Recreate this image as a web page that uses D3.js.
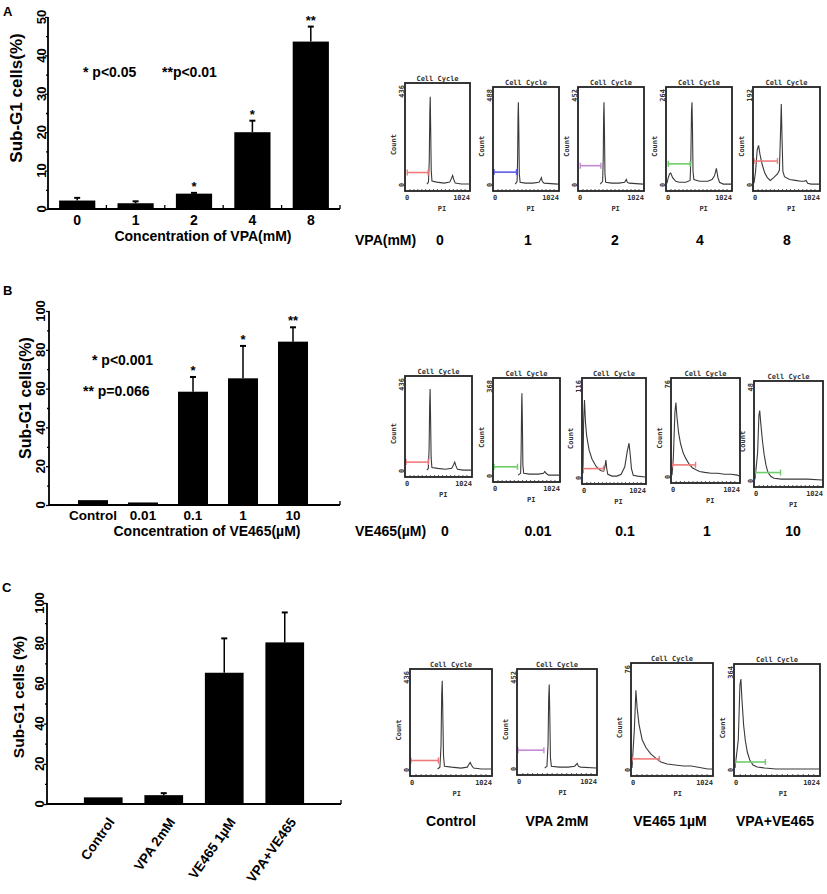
<!DOCTYPE html>
<html>
<head>
<meta charset="utf-8">
<script src="https://cdn.jsdelivr.net/npm/d3@7"></script>
<style>
  body { margin: 0; background: #fff; }
  text { font-family: "Liberation Sans", Arial, sans-serif; font-weight: bold; fill: #000; }
  .mono { font-family: "DejaVu Sans Mono", monospace; font-size: 7px; fill: #333; }
</style>
</head>
<body>
<svg id="fig" width="827" height="894"></svg>
<script>
// ---- bar chart data ----
var vpaDoses = ['0', '1', '2', '4', '8'];
var vpaSubG1 = [2.2, 1.5, 4.0, 20.0, 43.6];
var vpaErr = [0.7, 0.5, 0.2, 3.0, 3.9];
var vpaStars = ['', '', '*', '*', '**'];
var vpaTicks = [0, 10, 20, 30, 40, 50];

var veDoses = ['Control', '0.01', '0.1', '1', '10'];
var veSubG1 = [2.5, 1.3, 58.4, 65.3, 84.2];
var veErr = [0, 0, 7.6, 16.7, 7.4];
var veStars = ['', '', '*', '*', '**'];
var veTicks = [0, 20, 40, 60, 80, 100];

var comboGroups = ['Control', 'VPA 2mM', 'VE465 1\u00b5M', 'VPA+VE465'];
var comboSubG1 = [3.3, 4.4, 65.3, 80.4];
var comboErr = [0, 1.0, 17.1, 14.9];
var comboTicks = [0, 20, 40, 60, 80, 100];

// ---- flow histograms: [PI channel, count as fraction of axis max] ----
var histA0 = [[340,0.01],[365,0.03],[378,0.25],[387,0.75],[394,0.92],[401,0.6],[410,0.15],[422,0.04],[500,0.03],[620,0.02],[710,0.03],[740,0.07],[758,0.1],[775,0.06],[800,0.02],[900,0.01],[1024,0.01]];
var histA1 = [[340,0.01],[370,0.04],[378,0.3],[384,0.75],[390,0.9],[397,0.6],[405,0.12],[418,0.03],[500,0.02],[620,0.02],[720,0.03],[745,0.06],[758,0.08],[772,0.04],[800,0.02],[1024,0.01]];
var histA2 = [[340,0.01],[378,0.04],[388,0.3],[394,0.75],[400,0.9],[407,0.6],[415,0.12],[428,0.03],[520,0.02],[640,0.02],[730,0.03],[748,0.05],[758,0.06],[772,0.03],[800,0.02],[1024,0.01]];
var histA3 = [[0,0.02],[20,0.08],[40,0.12],[60,0.13],[90,0.08],[140,0.04],[200,0.03],[300,0.03],[370,0.05],[382,0.3],[392,0.8],[400,0.9],[408,0.6],[416,0.15],[430,0.06],[520,0.04],[650,0.04],[720,0.06],[760,0.1],[790,0.18],[815,0.08],[840,0.03],[900,0.01],[1024,0.01]];
var histA4 = [[0,0.02],[25,0.15],[50,0.38],[72,0.43],[95,0.33],[130,0.22],[170,0.13],[210,0.08],[256,0.05],[310,0.08],[370,0.12],[400,0.16],[415,0.5],[430,0.88],[442,0.5],[455,0.15],[480,0.09],[560,0.06],[650,0.05],[740,0.04],[790,0.04],[820,0.05],[845,0.02],[900,0.01],[1024,0.01]];

var histB0 = [[330,0.01],[352,0.03],[364,0.25],[373,0.75],[380,0.92],[387,0.6],[396,0.15],[408,0.04],[500,0.03],[620,0.02],[720,0.03],[750,0.07],[768,0.1],[785,0.06],[810,0.02],[900,0.01],[1024,0.01]];
var histB1 = [[380,0.01],[420,0.03],[428,0.3],[435,0.75],[440,0.9],[447,0.6],[455,0.12],[468,0.03],[560,0.02],[700,0.02],[780,0.03],[800,0.05],[820,0.03],[860,0.01],[1024,0.01]];
var histB2 = [[0,0.05],[10,0.6],[25,0.83],[40,0.6],[60,0.45],[100,0.3],[150,0.2],[220,0.12],[290,0.08],[340,0.07],[362,0.12],[378,0.19],[392,0.1],[410,0.04],[480,0.02],[560,0.02],[630,0.04],[690,0.12],[730,0.28],[760,0.37],[780,0.25],[800,0.1],[830,0.03],[900,0.02],[1024,0.01]];
var histB3 = [[0,0.02],[20,0.2],[45,0.7],[60,0.8],[75,0.65],[100,0.48],[130,0.36],[170,0.26],[210,0.2],[260,0.14],[310,0.1],[360,0.08],[420,0.06],[500,0.05],[600,0.04],[700,0.04],[800,0.03],[900,0.03],[1000,0.02],[1024,0.01]];
var histB4 = [[0,0.02],[40,0.3],[60,0.7],[72,0.75],[90,0.6],[115,0.42],[140,0.28],[170,0.16],[200,0.09],[240,0.05],[290,0.03],[400,0.02],[600,0.02],[800,0.02],[1024,0.01]];

var histC0 = [[340,0.01],[370,0.03],[384,0.25],[393,0.8],[400,0.94],[407,0.6],[416,0.15],[428,0.04],[520,0.03],[640,0.02],[720,0.03],[742,0.06],[758,0.08],[774,0.05],[800,0.02],[900,0.01],[1024,0.01]];
var histC1 = [[350,0.01],[380,0.03],[394,0.25],[403,0.75],[410,0.9],[417,0.6],[426,0.12],[438,0.03],[540,0.02],[660,0.02],[745,0.03],[765,0.05],[778,0.06],[792,0.03],[820,0.02],[1024,0.01]];
var histC2 = [[0,0.02],[30,0.4],[50,0.79],[65,0.62],[90,0.45],[130,0.3],[180,0.22],[240,0.16],[300,0.12],[370,0.08],[450,0.06],[550,0.05],[660,0.04],[760,0.04],[830,0.03],[900,0.02],[970,0.01],[1024,0.01]];
var histC3 = [[0,0.02],[40,0.3],[60,0.85],[72,0.91],[85,0.7],[105,0.45],[125,0.3],[150,0.18],[180,0.1],[220,0.05],[270,0.03],[360,0.02],[500,0.01],[700,0.01],[1024,0.01]];

// axis maximum printed on each histogram
var countMaxA = ['436', '488', '452', '264', '192'];
var countMaxB = ['436', '368', '116', '76', '48'];
var countMaxC = ['436', '452', '76', '364'];

// gates: [start PI, end PI, level]
var gatesA = [[20,360,0.13],[0,360,0.14],[20,350,0.21],[20,370,0.23],[0,370,0.26]];
var gatesB = [[0,350,0.1],[0,370,0.1],[0,340,0.1],[0,360,0.13],[0,390,0.09]];
var gatesC = [[0,350,0.1],[0,340,0.2],[0,350,0.11],[0,370,0.08]];

var rowLabelsA = ['0', '1', '2', '4', '8'];
var rowLabelsB = ['0', '0.01', '0.1', '1', '10'];
var rowLabelsC = ['Control', 'VPA 2mM', 'VE465 1\u00b5M', 'VPA+VE465'];

var RED = '#f07a7a', BLUE = '#5a5ae6', PURPLE = '#c48ad6', GREEN = '#6ccf6c';

var svg = d3.select('#fig');

function barPanel(c) {
  var g = svg.append('g');
  var y = d3.scaleLinear().domain([0, c.yMax]).range([c.y0, c.yTop]);
  var x = d3.scaleBand().domain(c.cats).range(c.xRange)
    .paddingInner(c.pad).paddingOuter(c.pad / 2);

  // ticks from d3 axes (labels drawn rotated below)
  var minor = d3.range(c.minorStep / 2, c.yMax, c.minorStep);
  var ax = g.append('g').attr('transform', 'translate(' + c.axisX + ',0)')
    .call(d3.axisLeft(y).tickValues(c.ticks).tickSize(3).tickFormat(''));
  var axm = g.append('g').attr('transform', 'translate(' + c.axisX + ',0)')
    .call(d3.axisLeft(y).tickValues(minor).tickSize(2).tickFormat(''));
  [ax, axm].forEach(function(a) {
    a.select('.domain').remove();
    a.selectAll('line').attr('stroke', '#000').attr('stroke-width', 1.3);
  });

  g.selectAll('.ylab').data(c.ticks).join('text')
    .attr('transform', function(d) { return 'translate(' + c.tickLabelX + ',' + y(d) + ') rotate(-90)'; })
    .attr('text-anchor', 'middle').style('font-size', '13px').text(function(d) { return d; });

  g.append('text')
    .attr('transform', 'translate(' + c.yTitleX + ',' + c.yTitleY + ') rotate(-90)')
    .attr('text-anchor', 'middle').style('font-size', c.yTitleSize + 'px').text(c.yTitle);

  // bars
  g.selectAll('.bar').data(c.cats).join('rect')
    .attr('x', function(d) { return x(d); })
    .attr('y', function(d, i) { return y(c.vals[i]); })
    .attr('width', x.bandwidth())
    .attr('height', function(d, i) { return y(0) - y(c.vals[i]); })
    .attr('fill', '#000');

  // error bars (upper only)
  var eg = g.selectAll('.err').data(c.cats).join('g')
    .attr('transform', function(d) { return 'translate(' + (x(d) + x.bandwidth() / 2) + ',0)'; });
  eg.filter(function(d, i) { return c.errs[i] > 0; }).append('line')
    .attr('y1', function(d) { var i = c.cats.indexOf(d); return y(c.vals[i]); })
    .attr('y2', function(d) { var i = c.cats.indexOf(d); return y(c.vals[i] + c.errs[i]); })
    .attr('stroke', '#000').attr('stroke-width', 1.5);
  eg.filter(function(d, i) { return c.errs[i] > 0; }).append('line')
    .attr('x1', -3).attr('x2', 3)
    .attr('y1', function(d) { var i = c.cats.indexOf(d); return y(c.vals[i] + c.errs[i]); })
    .attr('y2', function(d) { var i = c.cats.indexOf(d); return y(c.vals[i] + c.errs[i]); })
    .attr('stroke', '#000').attr('stroke-width', 2);
  if (c.stars) {
    eg.append('text').attr('text-anchor', 'middle').style('font-size', '13px')
      .attr('y', function(d) { var i = c.cats.indexOf(d); return y(c.vals[i] + c.errs[i]) - 2; })
      .text(function(d) { return c.stars[c.cats.indexOf(d)]; });
  }

  // axis lines
  g.append('line').attr('x1', c.axisX).attr('x2', c.axisX).attr('y1', y(0)).attr('y2', y(c.yMax))
    .attr('stroke', '#000').attr('stroke-width', 1.8);
  g.append('line').attr('x1', c.axisX).attr('x2', c.xEnd).attr('y1', y(0)).attr('y2', y(0))
    .attr('stroke', '#000').attr('stroke-width', 2);
  var xt = [c.xEnd];
  if (c.bandTicks) xt = c.cats.map(function(d) { return x(d) + x.bandwidth() + x.step() * c.pad / 2; });
  g.selectAll('.xt').data(xt).join('line')
    .attr('x1', function(d) { return d; }).attr('x2', function(d) { return d; })
    .attr('y1', y(0)).attr('y2', y(0) - 4).attr('stroke', '#000').attr('stroke-width', 1.3);

  // category labels
  if (c.catRotate) {
    g.selectAll('.xl').data(c.cats).join('text')
      .attr('transform', function(d) { return 'translate(' + (x(d) + x.bandwidth() / 2 + 12) + ',' + c.catLabelY + ') rotate(' + c.catRotate + ')'; })
      .attr('text-anchor', 'end').style('font-size', '13.5px').text(function(d) { return d; });
  } else {
    g.selectAll('.xl').data(c.cats).join('text')
      .attr('x', function(d) { return x(d) + x.bandwidth() / 2; }).attr('y', c.catLabelY)
      .attr('text-anchor', 'middle').style('font-size', c.catSize + 'px').text(function(d) { return d; });
  }
  if (c.xTitle) {
    g.append('text').attr('x', c.xTitleX).attr('y', c.xTitleY).attr('text-anchor', 'middle')
      .style('font-size', '14px').text(c.xTitle);
  }
  return g;
}

function histPanel(box, pts, gate, color, countMax) {
  var l = box[0], r = box[1], t = box[2], b = box[3];
  var hx = d3.scaleLinear().domain([0, 1024]).range([l + 1, r - 1]);
  var hy = d3.scaleLinear().domain([0, 1]).range([b - 6, t + 6]);
  var g = svg.append('g');

  g.append('path').datum(pts)
    .attr('d', d3.line().x(function(d) { return hx(d[0]); }).y(function(d) { return hy(d[1]); }))
    .attr('fill', 'none').attr('stroke', '#3a3a3a').attr('stroke-width', 1.1);

  // gate marker
  var gy = hy(gate[2]);
  g.append('line').attr('x1', hx(gate[0])).attr('x2', hx(gate[1])).attr('y1', gy).attr('y2', gy)
    .attr('stroke', color).attr('stroke-width', 1.6);
  g.selectAll('.cap').data([gate[0], gate[1]]).join('line')
    .attr('x1', function(d) { return hx(d); }).attr('x2', function(d) { return hx(d); })
    .attr('y1', gy - 3).attr('y2', gy + 3).attr('stroke', color).attr('stroke-width', 1.4);

  // frame + bottom ticks
  g.append('rect').attr('x', l).attr('y', t).attr('width', r - l).attr('height', b - t)
    .attr('fill', 'none').attr('stroke', '#222').attr('stroke-width', 1.8);
  g.selectAll('.bt').data(d3.range(64, 1024, 64)).join('line')
    .attr('x1', function(d) { return hx(d); }).attr('x2', function(d) { return hx(d); })
    .attr('y1', b).attr('y2', b - 2).attr('stroke', '#333').attr('stroke-width', 0.8);

  g.append('text').attr('class', 'mono').attr('x', (l + r) / 2).attr('y', t - 2)
    .attr('text-anchor', 'middle').text('Cell Cycle');
  g.append('text').attr('class', 'mono')
    .attr('transform', 'translate(' + (l - 9) + ',' + (t + (b - t) * 0.57) + ') rotate(-90)')
    .attr('text-anchor', 'middle').text('Count');
  g.append('text').attr('class', 'mono')
    .attr('transform', 'translate(' + (l - 1) + ',' + (t + 2) + ') rotate(-90)')
    .attr('text-anchor', 'end').text(countMax);
  g.append('text').attr('class', 'mono')
    .attr('transform', 'translate(' + (l - 1) + ',' + hy(0) + ') rotate(-90)')
    .attr('text-anchor', 'middle').text('0');
  g.append('text').attr('class', 'mono').attr('x', l + 2).attr('y', b + 9)
    .attr('text-anchor', 'middle').text('0');
  g.append('text').attr('class', 'mono').attr('x', r).attr('y', b + 9)
    .attr('text-anchor', 'end').text('1024');
  g.append('text').attr('class', 'mono').attr('x', l + (r - l) * 0.57).attr('y', b + 20)
    .attr('text-anchor', 'middle').text('PI');
}

// ---------- panel A ----------
svg.append('text').attr('x', 3).attr('y', 16).style('font-size', '13px').text('A');
barPanel({
  cats: vpaDoses, vals: vpaSubG1, errs: vpaErr, stars: vpaStars, ticks: vpaTicks,
  yMax: 50, minorStep: 10, y0: 209, yTop: 17, axisX: 48, xEnd: 340,
  xRange: [48, 340], pad: 0.38, bandTicks: true, tickLabelX: 46,
  yTitle: 'Sub-G1 cells(%)', yTitleX: 22, yTitleY: 98, yTitleSize: 17,
  catLabelY: 225, catSize: 14, xTitle: 'Concentration of VPA(mM)', xTitleX: 203, xTitleY: 241
});
svg.append('text').attr('x', 83).attr('y', 77).style('font-size', '14px').text('* p<0.05');
svg.append('text').attr('x', 162).attr('y', 77).style('font-size', '14px').text('**p<0.01');

var boxesA = [[405,470,83,191],[493,559,87,191],[578,644,87,191],[666,732,87,191],[753,820,87,191]];
var histsA = [histA0, histA1, histA2, histA3, histA4];
var colorsA = [RED, BLUE, PURPLE, GREEN, RED];
boxesA.forEach(function(bx, i) { histPanel(bx, histsA[i], gatesA[i], colorsA[i], countMaxA[i]); });
svg.append('text').attr('x', 355).attr('y', 245).style('font-size', '14px').text('VPA(mM)');
svg.selectAll('.rla').data(rowLabelsA).join('text')
  .attr('x', function(d, i) { return [440, 528, 615, 700, 787][i]; }).attr('y', 245)
  .attr('text-anchor', 'middle').style('font-size', '14px').text(function(d) { return d; });

// ---------- panel B ----------
svg.append('text').attr('x', 3).attr('y', 295).style('font-size', '13px').text('B');
barPanel({
  cats: veDoses, vals: veSubG1, errs: veErr, stars: veStars, ticks: veTicks,
  yMax: 100, minorStep: 20, y0: 505, yTop: 311, axisX: 49, xEnd: 340,
  xRange: [68, 318], pad: 0.4, bandTicks: false, tickLabelX: 45,
  yTitle: 'Sub-G1 cells(%)', yTitleX: 31, yTitleY: 398, yTitleSize: 16,
  catLabelY: 520, catSize: 13.5, xTitle: 'Concentration of VE465(\u00b5M)', xTitleX: 207, xTitleY: 536
});
svg.append('text').attr('x', 92).attr('y', 365).style('font-size', '14px').text('* p<0.001');
svg.append('text').attr('x', 83).attr('y', 396).style('font-size', '14px').text('** p=0.066');

var boxesB = [[405,472,376,477],[493,560,378,482],[582,646,378,484],[671,740,378,483],[754,823,381,487]];
var histsB = [histB0, histB1, histB2, histB3, histB4];
var colorsB = [RED, GREEN, RED, RED, GREEN];
boxesB.forEach(function(bx, i) { histPanel(bx, histsB[i], gatesB[i], colorsB[i], countMaxB[i]); });
svg.append('text').attr('x', 355).attr('y', 536).style('font-size', '14px').text('VE465(\u00b5M)');
svg.selectAll('.rlb').data(rowLabelsB).join('text')
  .attr('x', function(d, i) { return [445, 538, 625, 707, 793][i]; }).attr('y', 536)
  .attr('text-anchor', 'middle').style('font-size', '14px').text(function(d) { return d; });

// ---------- panel C ----------
svg.append('text').attr('x', 2).attr('y', 592).style('font-size', '13px').text('C');
barPanel({
  cats: comboGroups, vals: comboSubG1, errs: comboErr, stars: null, ticks: comboTicks,
  yMax: 100, minorStep: 20, y0: 804, yTop: 603, axisX: 47, xEnd: 341,
  xRange: [73, 315], pad: 0.36, bandTicks: false, tickLabelX: 44,
  yTitle: 'Sub-G1 cells (%)', yTitleX: 24, yTitleY: 697, yTitleSize: 15.5,
  catLabelY: 822, catRotate: -55
});

var boxesC = [[410,492,669,776],[517,597,669,775],[631,713,663,776],[734,820,664,776]];
var histsC = [histC0, histC1, histC2, histC3];
var colorsC = [RED, PURPLE, RED, GREEN];
boxesC.forEach(function(bx, i) { histPanel(bx, histsC[i], gatesC[i], colorsC[i], countMaxC[i]); });
svg.selectAll('.rlc').data(rowLabelsC).join('text')
  .attr('x', function(d, i) { return [451, 557, 670, 775][i]; }).attr('y', 826)
  .attr('text-anchor', 'middle').style('font-size', '14px').text(function(d) { return d; });
</script>
</body>
</html>
